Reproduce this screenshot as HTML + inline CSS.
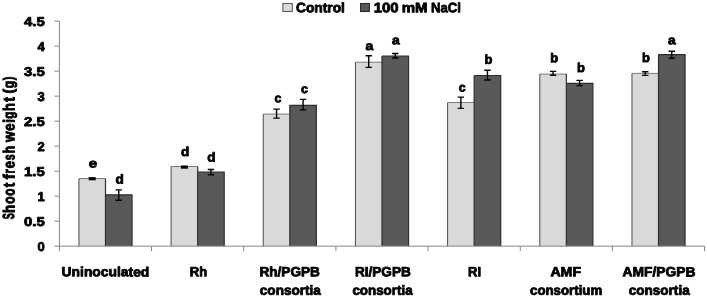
<!DOCTYPE html>
<html><head><meta charset="utf-8"><title>Shoot fresh weight</title>
<style>
html,body{margin:0;padding:0;background:#fff;}
body{width:707px;height:298px;overflow:hidden;font-family:"Liberation Sans",sans-serif;}
.t{font-family:"Liberation Sans",sans-serif;font-weight:bold;font-size:13.3px;fill:#000;stroke:#000;stroke-width:0.8px;stroke-linejoin:round;}
.l{font-size:13.7px}
.x{font-size:13.4px}
.g{font-size:13.7px}
.k{font-size:12.8px}
</style></head><body>
<svg width="707" height="298" viewBox="0 0 707 298" style="display:block;will-change:transform;filter:blur(0.3px)">
<rect width="707" height="298" fill="#fff"/>
<rect x="78.94" y="178.50" width="26.55" height="67.65" fill="#d9d9d9"/>
<rect x="105.48" y="194.80" width="26.55" height="51.35" fill="#595959"/>
<path d="M78.94 246.15 V178.50" stroke="#4a4a4a" stroke-width="1" fill="none"/>
<path d="M78.94 178.50 H105.48" stroke="#7a7a7a" stroke-width="1" fill="none"/>
<path d="M105.48 246.15 V178.50" stroke="#2e2e2e" stroke-width="1.2" fill="none"/>
<path d="M105.48 194.80 H132.03 V246.15" stroke="#2e2e2e" stroke-width="1.2" fill="none"/>
<rect x="88.71" y="177.10" width="7" height="3.2" fill="#000"/>
<path d="M115.56 189.90 h6.4 M115.56 200.30 h6.4 M118.76 189.90 V200.30" stroke="#000" stroke-width="1.4" fill="none"/>
<text x="88.79" y="167.50" transform="rotate(0.03 88.79 167.50)" class="t" style="font-size:12.4px" textLength="8.41" lengthAdjust="spacingAndGlyphs">e</text>
<text x="115.56" y="183.50" transform="rotate(0.03 115.56 183.50)" class="t" style="font-size:12.9px" textLength="8.28" lengthAdjust="spacingAndGlyphs">d</text>
<rect x="171.10" y="166.50" width="26.55" height="79.65" fill="#d9d9d9"/>
<rect x="197.66" y="172.00" width="26.55" height="74.15" fill="#595959"/>
<path d="M171.10 246.15 V166.50" stroke="#4a4a4a" stroke-width="1" fill="none"/>
<path d="M171.10 166.50 H197.66" stroke="#7a7a7a" stroke-width="1" fill="none"/>
<path d="M197.66 246.15 V166.50" stroke="#2e2e2e" stroke-width="1.2" fill="none"/>
<path d="M197.66 172.00 H224.21 V246.15" stroke="#2e2e2e" stroke-width="1.2" fill="none"/>
<rect x="180.88" y="165.50" width="7" height="3.2" fill="#000"/>
<path d="M207.73 169.50 h6.4 M207.73 174.70 h6.4 M210.93 169.50 V174.70" stroke="#000" stroke-width="1.4" fill="none"/>
<text x="181.06" y="155.90" transform="rotate(0.03 181.06 155.90)" class="t" style="font-size:12.9px" textLength="8.28" lengthAdjust="spacingAndGlyphs">d</text>
<text x="207.26" y="161.40" transform="rotate(0.03 207.26 161.40)" class="t" style="font-size:12.9px" textLength="8.28" lengthAdjust="spacingAndGlyphs">d</text>
<rect x="263.27" y="114.10" width="26.55" height="132.05" fill="#d9d9d9"/>
<rect x="289.82" y="105.30" width="26.55" height="140.85" fill="#595959"/>
<path d="M263.27 246.15 V114.10" stroke="#4a4a4a" stroke-width="1" fill="none"/>
<path d="M263.27 114.10 H289.82" stroke="#7a7a7a" stroke-width="1" fill="none"/>
<path d="M289.82 246.15 V105.30" stroke="#2e2e2e" stroke-width="1.2" fill="none"/>
<path d="M289.82 105.30 H316.38 V246.15" stroke="#2e2e2e" stroke-width="1.2" fill="none"/>
<path d="M273.35 109.15 h6.4 M273.35 118.10 h6.4 M276.55 109.15 V118.10" stroke="#000" stroke-width="1.4" fill="none"/>
<path d="M299.90 99.40 h6.4 M299.90 109.85 h6.4 M303.10 99.40 V109.85" stroke="#000" stroke-width="1.4" fill="none"/>
<text x="274.45" y="102.30" transform="rotate(0.03 274.45 102.30)" class="t" style="font-size:12.4px" textLength="6.89" lengthAdjust="spacingAndGlyphs">c</text>
<text x="300.95" y="93.10" transform="rotate(0.03 300.95 93.10)" class="t" style="font-size:12.4px" textLength="6.89" lengthAdjust="spacingAndGlyphs">c</text>
<rect x="355.44" y="62.20" width="26.55" height="183.95" fill="#d9d9d9"/>
<rect x="382.00" y="56.00" width="26.55" height="190.15" fill="#595959"/>
<path d="M355.44 246.15 V62.20" stroke="#4a4a4a" stroke-width="1" fill="none"/>
<path d="M355.44 62.20 H382.00" stroke="#7a7a7a" stroke-width="1" fill="none"/>
<path d="M382.00 246.15 V56.00" stroke="#2e2e2e" stroke-width="1.2" fill="none"/>
<path d="M382.00 56.00 H408.55 V246.15" stroke="#2e2e2e" stroke-width="1.2" fill="none"/>
<path d="M365.52 55.70 h6.4 M365.52 67.40 h6.4 M368.72 55.70 V67.40" stroke="#000" stroke-width="1.4" fill="none"/>
<path d="M392.07 53.50 h6.4 M392.07 58.00 h6.4 M395.27 53.50 V58.00" stroke="#000" stroke-width="1.4" fill="none"/>
<text x="365.64" y="50.10" transform="rotate(0.03 365.64 50.10)" class="t" style="font-size:12.4px" textLength="7.72" lengthAdjust="spacingAndGlyphs">a</text>
<text x="392.14" y="44.20" transform="rotate(0.03 392.14 44.20)" class="t" style="font-size:12.4px" textLength="7.72" lengthAdjust="spacingAndGlyphs">a</text>
<rect x="447.61" y="102.50" width="26.55" height="143.65" fill="#d9d9d9"/>
<rect x="474.16" y="75.50" width="26.55" height="170.65" fill="#595959"/>
<path d="M447.61 246.15 V102.50" stroke="#4a4a4a" stroke-width="1" fill="none"/>
<path d="M447.61 102.50 H474.16" stroke="#7a7a7a" stroke-width="1" fill="none"/>
<path d="M474.16 246.15 V75.50" stroke="#2e2e2e" stroke-width="1.2" fill="none"/>
<path d="M474.16 75.50 H500.71 V246.15" stroke="#2e2e2e" stroke-width="1.2" fill="none"/>
<path d="M457.69 97.10 h6.4 M457.69 108.40 h6.4 M460.89 97.10 V108.40" stroke="#000" stroke-width="1.4" fill="none"/>
<path d="M484.24 70.30 h6.4 M484.24 80.05 h6.4 M487.44 70.30 V80.05" stroke="#000" stroke-width="1.4" fill="none"/>
<text x="458.85" y="91.60" transform="rotate(0.03 458.85 91.60)" class="t" style="font-size:12.4px" textLength="6.89" lengthAdjust="spacingAndGlyphs">c</text>
<text x="484.46" y="63.80" transform="rotate(0.03 484.46 63.80)" class="t" style="font-size:12.9px" textLength="7.88" lengthAdjust="spacingAndGlyphs">b</text>
<rect x="539.79" y="74.10" width="26.55" height="172.05" fill="#d9d9d9"/>
<rect x="566.34" y="83.30" width="26.55" height="162.85" fill="#595959"/>
<path d="M539.79 246.15 V74.10" stroke="#4a4a4a" stroke-width="1" fill="none"/>
<path d="M539.79 74.10 H566.34" stroke="#7a7a7a" stroke-width="1" fill="none"/>
<path d="M566.34 246.15 V74.10" stroke="#2e2e2e" stroke-width="1.2" fill="none"/>
<path d="M566.34 83.30 H592.88 V246.15" stroke="#2e2e2e" stroke-width="1.2" fill="none"/>
<path d="M549.86 71.40 h6.4 M549.86 75.20 h6.4 M553.06 71.40 V75.20" stroke="#000" stroke-width="1.4" fill="none"/>
<path d="M576.41 80.40 h6.4 M576.41 85.60 h6.4 M579.61 80.40 V85.60" stroke="#000" stroke-width="1.4" fill="none"/>
<text x="550.36" y="62.30" transform="rotate(0.03 550.36 62.30)" class="t" style="font-size:12.9px" textLength="7.88" lengthAdjust="spacingAndGlyphs">b</text>
<text x="577.06" y="72.00" transform="rotate(0.03 577.06 72.00)" class="t" style="font-size:12.9px" textLength="7.88" lengthAdjust="spacingAndGlyphs">b</text>
<rect x="631.96" y="73.40" width="26.55" height="172.75" fill="#d9d9d9"/>
<rect x="658.50" y="54.60" width="26.55" height="191.55" fill="#595959"/>
<path d="M631.96 246.15 V73.40" stroke="#4a4a4a" stroke-width="1" fill="none"/>
<path d="M631.96 73.40 H658.50" stroke="#7a7a7a" stroke-width="1" fill="none"/>
<path d="M658.50 246.15 V54.60" stroke="#2e2e2e" stroke-width="1.2" fill="none"/>
<path d="M658.50 54.60 H685.05 V246.15" stroke="#2e2e2e" stroke-width="1.2" fill="none"/>
<path d="M642.03 71.80 h6.4 M642.03 75.40 h6.4 M645.23 71.80 V75.40" stroke="#000" stroke-width="1.4" fill="none"/>
<path d="M668.58 51.20 h6.4 M668.58 58.30 h6.4 M671.78 51.20 V58.30" stroke="#000" stroke-width="1.4" fill="none"/>
<text x="642.06" y="61.90" transform="rotate(0.03 642.06 61.90)" class="t" style="font-size:12.9px" textLength="7.88" lengthAdjust="spacingAndGlyphs">b</text>
<text x="668.14" y="44.20" transform="rotate(0.03 668.14 44.20)" class="t" style="font-size:12.4px" textLength="7.72" lengthAdjust="spacingAndGlyphs">a</text>
<path d="M59.4 21.15 V251.15 " stroke="#868686" stroke-width="1" fill="none"/>
<path d="M54.4 246.15 H704.59" stroke="#868686" stroke-width="1" fill="none"/>
<path d="M54.4 21.15 H59.4" stroke="#868686" stroke-width="1" fill="none"/>
<text x="24.00" y="25.95" transform="rotate(0.03 24.00 25.95)" class="t k" textLength="20.7" lengthAdjust="spacingAndGlyphs">4.5</text>
<path d="M54.4 46.15 H59.4" stroke="#868686" stroke-width="1" fill="none"/>
<text x="37.50" y="50.95" transform="rotate(0.03 37.50 50.95)" class="t k" textLength="7.2" lengthAdjust="spacingAndGlyphs">4</text>
<path d="M54.4 71.15 H59.4" stroke="#868686" stroke-width="1" fill="none"/>
<text x="24.00" y="75.95" transform="rotate(0.03 24.00 75.95)" class="t k" textLength="20.7" lengthAdjust="spacingAndGlyphs">3.5</text>
<path d="M54.4 96.15 H59.4" stroke="#868686" stroke-width="1" fill="none"/>
<text x="37.50" y="100.95" transform="rotate(0.03 37.50 100.95)" class="t k" textLength="7.2" lengthAdjust="spacingAndGlyphs">3</text>
<path d="M54.4 121.15 H59.4" stroke="#868686" stroke-width="1" fill="none"/>
<text x="24.00" y="125.95" transform="rotate(0.03 24.00 125.95)" class="t k" textLength="20.7" lengthAdjust="spacingAndGlyphs">2.5</text>
<path d="M54.4 146.15 H59.4" stroke="#868686" stroke-width="1" fill="none"/>
<text x="37.50" y="150.95" transform="rotate(0.03 37.50 150.95)" class="t k" textLength="7.2" lengthAdjust="spacingAndGlyphs">2</text>
<path d="M54.4 171.15 H59.4" stroke="#868686" stroke-width="1" fill="none"/>
<text x="24.00" y="175.95" transform="rotate(0.03 24.00 175.95)" class="t k" textLength="20.7" lengthAdjust="spacingAndGlyphs">1.5</text>
<path d="M54.4 196.15 H59.4" stroke="#868686" stroke-width="1" fill="none"/>
<text x="37.50" y="200.95" transform="rotate(0.03 37.50 200.95)" class="t k" textLength="7.2" lengthAdjust="spacingAndGlyphs">1</text>
<path d="M54.4 221.15 H59.4" stroke="#868686" stroke-width="1" fill="none"/>
<text x="24.00" y="225.95" transform="rotate(0.03 24.00 225.95)" class="t k" textLength="20.7" lengthAdjust="spacingAndGlyphs">0.5</text>
<text x="37.50" y="250.95" transform="rotate(0.03 37.50 250.95)" class="t k" textLength="7.2" lengthAdjust="spacingAndGlyphs">0</text>
<path d="M151.57 246.15 v5" stroke="#868686" stroke-width="1" fill="none"/>
<path d="M243.74 246.15 v5" stroke="#868686" stroke-width="1" fill="none"/>
<path d="M335.91 246.15 v5" stroke="#868686" stroke-width="1" fill="none"/>
<path d="M428.08 246.15 v5" stroke="#868686" stroke-width="1" fill="none"/>
<path d="M520.25 246.15 v5" stroke="#868686" stroke-width="1" fill="none"/>
<path d="M612.42 246.15 v5" stroke="#868686" stroke-width="1" fill="none"/>
<path d="M704.59 246.15 v5" stroke="#868686" stroke-width="1" fill="none"/>
<text x="61.60" y="276.35" transform="rotate(0.03 61.60 276.35)" class="t x" textLength="87.70" lengthAdjust="spacingAndGlyphs">Uninoculated</text>
<text x="189.80" y="276.35" transform="rotate(0.03 189.80 276.35)" class="t x" textLength="17.30" lengthAdjust="spacingAndGlyphs">Rh</text>
<text x="259.50" y="276.35" transform="rotate(0.03 259.50 276.35)" class="t x" textLength="60.30" lengthAdjust="spacingAndGlyphs">Rh/PGPB</text>
<text x="259.80" y="294.75" transform="rotate(0.03 259.80 294.75)" class="t x" textLength="61.10" lengthAdjust="spacingAndGlyphs">consortia</text>
<text x="355.00" y="276.35" transform="rotate(0.03 355.00 276.35)" class="t x" textLength="55.70" lengthAdjust="spacingAndGlyphs">RI/PGPB</text>
<text x="352.40" y="294.75" transform="rotate(0.03 352.40 294.75)" class="t x" textLength="60.20" lengthAdjust="spacingAndGlyphs">consortia</text>
<text x="468.00" y="276.35" transform="rotate(0.03 468.00 276.35)" class="t x" textLength="13.00" lengthAdjust="spacingAndGlyphs">RI</text>
<text x="550.40" y="276.35" transform="rotate(0.03 550.40 276.35)" class="t x" textLength="30.70" lengthAdjust="spacingAndGlyphs">AMF</text>
<text x="530.00" y="294.75" transform="rotate(0.03 530.00 294.75)" class="t x" textLength="72.30" lengthAdjust="spacingAndGlyphs">consortium</text>
<text x="622.60" y="276.35" transform="rotate(0.03 622.60 276.35)" class="t x" textLength="72.80" lengthAdjust="spacingAndGlyphs">AMF/PGPB</text>
<text x="628.70" y="294.75" transform="rotate(0.03 628.70 294.75)" class="t x" textLength="61.00" lengthAdjust="spacingAndGlyphs">consortia</text>
<rect x="282.85" y="3.5" width="9.5" height="8" fill="#d9d9d9" stroke="#5e5e5e" stroke-width="1.1"/>
<text x="296.0" y="12.15" transform="rotate(0.03 296.0 12.15)" class="t g" textLength="48.9" lengthAdjust="spacingAndGlyphs">Control</text>
<rect x="360.55" y="3.5" width="8.85" height="8" fill="#595959" stroke="#2b2b2b" stroke-width="1.1"/>
<text x="373.70" y="12.15" transform="rotate(0.03 373.70 12.15)" class="t g" textLength="24.90" lengthAdjust="spacingAndGlyphs">100</text>
<text x="401.70" y="12.15" transform="rotate(0.03 401.70 12.15)" class="t g" textLength="25.90" lengthAdjust="spacingAndGlyphs">mM</text>
<text x="431.00" y="12.15" transform="rotate(0.03 431.00 12.15)" class="t g" textLength="29.90" lengthAdjust="spacingAndGlyphs">NaCl</text>
<text transform="translate(14.4,219.30) rotate(-89.96) scale(0.686,1.21)" class="t">S</text>
<text transform="translate(14.4,213.00) rotate(-89.96) scale(1.007,1.21)" class="t">h</text>
<text transform="translate(14.4,203.81) rotate(-89.96) scale(0.902,1.21)" class="t">o</text>
<text transform="translate(14.4,195.71) rotate(-89.96) scale(0.889,1.21)" class="t">o</text>
<text transform="translate(14.4,187.24) rotate(-89.96) scale(1.026,1.21)" class="t">t</text>
<text transform="translate(14.4,179.16) rotate(-89.96) scale(1.140,1.21)" class="t">f</text>
<text transform="translate(14.4,173.61) rotate(-89.96) scale(0.821,1.21)" class="t">r</text>
<text transform="translate(14.4,168.32) rotate(-89.96) scale(0.979,1.21)" class="t">e</text>
<text transform="translate(14.4,160.20) rotate(-89.96) scale(0.800,1.21)" class="t">s</text>
<text transform="translate(14.4,153.16) rotate(-89.96) scale(0.910,1.21)" class="t">h</text>
<text transform="translate(14.4,142.09) rotate(-89.96) scale(1.013,1.21)" class="t">w</text>
<text transform="translate(14.4,130.72) rotate(-89.96) scale(0.979,1.21)" class="t">e</text>
<text transform="translate(14.4,122.70) rotate(-89.96) scale(0.990,1.21)" class="t">i</text>
<text transform="translate(13.64,118.81) rotate(-89.96) scale(0.880,1.126)" class="t">g</text>
<text transform="translate(14.4,111.08) rotate(-89.96) scale(0.966,1.21)" class="t">h</text>
<text transform="translate(14.4,101.84) rotate(-89.96) scale(1.046,1.21)" class="t">t</text>
<text transform="translate(13.45,93.56) rotate(-89.96) scale(1.038,1.105)" class="t">(</text>
<text transform="translate(13.64,88.21) rotate(-89.96) scale(0.907,1.126)" class="t">g</text>
<text transform="translate(13.45,80.19) rotate(-89.96) scale(0.822,1.105)" class="t">)</text>
</svg>
</body></html>
